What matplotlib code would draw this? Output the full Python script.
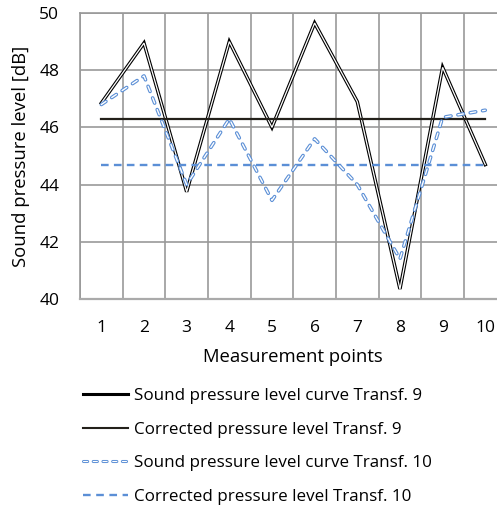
import matplotlib
matplotlib.use("Agg")
import matplotlib.pyplot as plt
from matplotlib.lines import Line2D
import numpy as np

plt.rcParams['font.family'] = ['Open Sans', 'DejaVu Sans']
plt.rcParams['lines.scale_dashes'] = False

points = [1, 2, 3, 4, 5, 6, 7, 8, 9, 10]
spl_t9 = [46.85, 48.95, 43.75, 49.0, 46.0, 49.65, 46.9, 40.35, 48.1, 44.7]
corr_t9 = [46.3] * 10
spl_t10 = [46.8, 47.8, 44.0, 46.3, 43.45, 45.6, 44.0, 41.4, 46.35, 46.6]
corr_t10 = [44.7] * 10
yticks = [40, 42, 44, 46, 48, 50]

W, H = 497, 508
fig = plt.figure(figsize=(W / 100, H / 100), dpi=100)
ax = fig.add_axes([80 / W, 1 - 299 / H, 426.6 / W, 286 / H])

FS_TICK = 12.5
FS_TITLE = 13.3
FS_LEG = 12.25
grid_c = '#999999'
ax.set_xlim(0.5, 10.5)
ax.set_ylim(40, 50)
ax.set_xticks(points)
ax.set_xticks(np.arange(0.5, 11, 1), minor=True)
ax.set_yticks(yticks)
ax.grid(True, which='minor', axis='x', color=grid_c, lw=1.2)
ax.grid(True, which='major', axis='y', color=grid_c, lw=1.2)
ax.tick_params(axis='both', which='both', length=0, labelsize=FS_TICK, colors='black')
ax.tick_params(axis='x', pad=15)
ax.tick_params(axis='y', pad=15)
for s in ax.spines.values():
    s.set_color(grid_c)
    s.set_linewidth(1.2)
ax.spines['bottom'].set_color('#aaaaaa')
ax.spines['bottom'].set_linewidth(1.6)
ax.set_axisbelow(True)

blue = '#5b8fd6'
# Sound pressure level curve Transf. 9 (double line)
o1, = ax.plot(points, spl_t9, color='black', lw=2.5, solid_joinstyle='miter', zorder=3)
i1, = ax.plot(points, spl_t9, color='white', lw=0.9, solid_joinstyle='miter', zorder=3.1)
# Corrected Transf. 9
c9, = ax.plot(points, corr_t9, color='#23201a', lw=1.6, zorder=3.2)
# Sound pressure level curve Transf. 10 (dashed double line)
o2, = ax.plot(points, spl_t10, color=blue, lw=2.6, dashes=(4.0, 5.0),
              dash_capstyle='round', zorder=4)
i2, = ax.plot(points, spl_t10, color='white', lw=1.0, dashes=(4.0, 5.0),
              dash_capstyle='round', zorder=4.1)
# Corrected Transf. 10
c10, = ax.plot(points, corr_t10, color=blue, lw=1.7, dashes=(5.5, 3.8), zorder=3.3)

ax.set_xlabel('Measurement points', fontsize=FS_TITLE, labelpad=9)
ax.set_ylabel('Sound pressure level [dB]', fontsize=FS_TITLE)
ax.yaxis.set_label_coords(-0.118, 0.5)

h1 = Line2D([], [], color='black', lw=2.2)
h2 = Line2D([], [], color='#23201a', lw=1.5)
h3o = Line2D([], [], color=blue, lw=2.2, dashes=(3.0, 4.0), dash_capstyle='round')
h3i = Line2D([], [], color='white', lw=0.8, dashes=(3.0, 4.0), dash_capstyle='round')
h4 = Line2D([], [], color=blue, lw=1.7, dashes=(5.5, 4.0))
labels = ['Sound pressure level curve Transf. 9',
          'Corrected pressure level Transf. 9',
          'Sound pressure level curve Transf. 10',
          'Corrected pressure level Transf. 10']
leg = fig.legend(handles=[h1, h2, (h3o, h3i), h4], labels=labels,
                 loc='upper left', bbox_to_anchor=(83 / W, 1 - 388 / H),
                 frameon=False, fontsize=FS_LEG, handlelength=2.65, handletextpad=0.35,
                 labelspacing=1.03, borderpad=0, borderaxespad=0)

fig.savefig('out.png', dpi=100)
